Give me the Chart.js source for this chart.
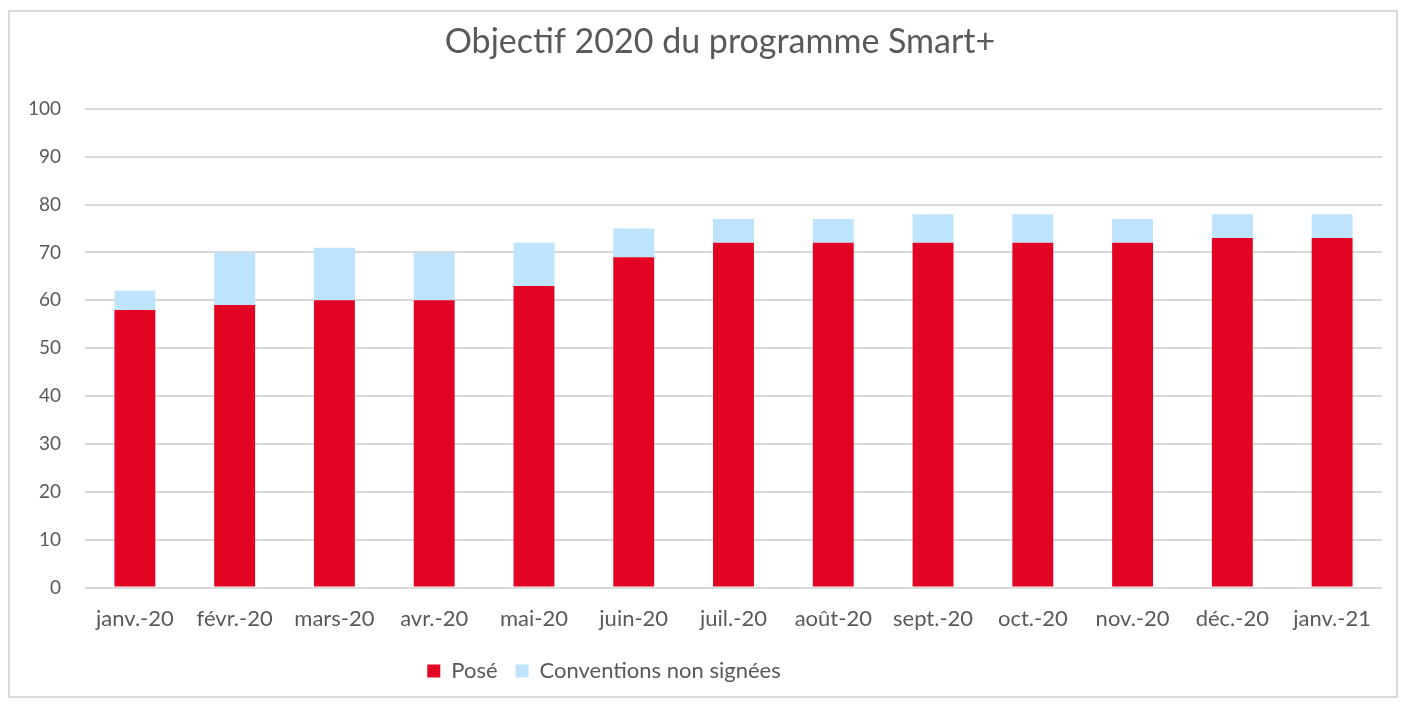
<!DOCTYPE html>
<html>
<head>
<meta charset="utf-8">
<script src="https://cdn.jsdelivr.net/npm/chart.js@4"></script>
<style>
  html, body { margin: 0; padding: 0; background: #fff; }
  #wrap {
    position: absolute;
    left: 8px; top: 10px;
    width: 1390px; height: 688px;
    border: 2px solid #d9d9d9;
    box-sizing: border-box;
  }
  canvas { display: block; }
</style>
</head>
<body>
<div id="wrap"><canvas id="barChart"></canvas></div>
<script>
// Data
const months = ['janv.-20', 'févr.-20', 'mars-20', 'avr.-20', 'mai-20', 'juin-20', 'juil.-20',
                'août-20', 'sept.-20', 'oct.-20', 'nov.-20', 'déc.-20', 'janv.-21'];
const pose = [58, 59, 60, 60, 63, 69, 72, 72, 72, 72, 72, 73, 73];
const nonSignees = [4, 11, 11, 10, 9, 6, 5, 5, 6, 6, 5, 5, 5];
const yTicks = [0, 10, 20, 30, 40, 50, 60, 70, 80, 90, 100];

const textColor = '#595959';
Chart.defaults.font.family = "Lato, 'Open Sans', sans-serif";
Chart.defaults.color = textColor;

// Excel puts the title a bit right of centre and the legend left of centre
const nudgeBoxes = {
    id: 'nudgeBoxes',
    afterLayout(chart) {
        if (chart.titleBlock) {
            chart.titleBlock.left += 24;
            chart.titleBlock.right += 24;
        }
        if (chart.legend) {
            chart.legend.left -= 92;
            chart.legend.right -= 92;
        }
    }
};

const ctx = document.getElementById('barChart').getContext('2d');
const barChart = new Chart(ctx, {
    type: 'bar',
    data: {
        labels: months,
        datasets: [{
            label: 'Posé',
            data: pose,
            backgroundColor: '#e30322',
            barPercentage: 0.41,
            categoryPercentage: 1
        }, {
            label: 'Conventions non signées',
            data: nonSignees,
            backgroundColor: '#bde3fd',
            barPercentage: 0.41,
            categoryPercentage: 1
        }]
    },
    options: {
        responsive: true,
        maintainAspectRatio: false,
        animation: false,
        layout: {
            padding: { top: 0, right: 14, bottom: 4, left: 0 }
        },
        plugins: {
            title: {
                display: true,
                text: 'Objectif 2020 du programme Smart+',
                color: textColor,
                font: { size: 34, weight: 'normal' },
                padding: { top: 10, bottom: 46 }
            },
            legend: {
                position: 'bottom',
                labels: {
                    boxWidth: 13,
                    boxHeight: 13,
                    padding: 18,
                    font: { size: 22 },
                    color: textColor
                }
            },
            tooltip: { enabled: false }
        },
        scales: {
            x: {
                stacked: true,
                grid: { display: false },
                border: { display: false },
                ticks: { font: { size: 22 }, color: textColor, padding: 10, maxRotation: 0 }
            },
            y: {
                stacked: true,
                min: 0,
                max: 100,
                afterBuildTicks: axis => { axis.ticks = yTicks.map(v => ({ value: v })); },
                afterFit: axis => { axis.width = 75; },
                grid: { color: '#d9d9d9', lineWidth: 2, drawTicks: false },
                border: { display: false },
                ticks: { font: { size: 19 }, color: textColor, padding: 24 }
            }
        }
    },
    plugins: [nudgeBoxes]
});
</script>
</body>
</html>
